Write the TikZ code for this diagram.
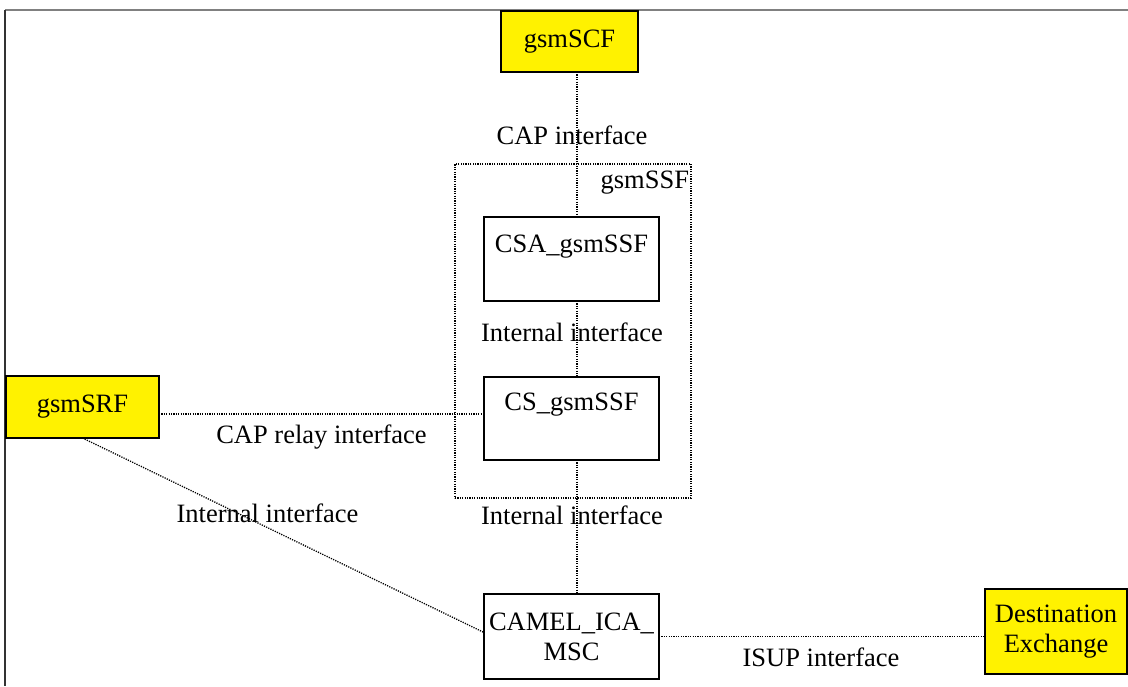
\documentclass[tikz,border=0pt]{standalone}
\usepackage{fontspec}
\setmainfont{Liberation Serif}
\begin{document}
\begin{tikzpicture}[x=0.5pt,y=-0.5pt,
  every node/.style={font=\fontsize{13.25}{15}\selectfont, inner sep=0pt, outer sep=0pt},
  yel/.style={draw=black, line width=0.75pt, fill=yellow, align=center},
  wbox/.style={draw=black, line width=0.75pt, fill=white, align=center},
  dotline/.style={line width=0.65pt, dash pattern=on 0.6pt off 0.6pt},
  lbl/.style={anchor=center}
]
\useasboundingbox (0,0) rectangle (1128,686);
% frame
\draw[gray, line width=0.9pt] (5,10) -- (1128,10);
\draw[black!80, line width=0.6pt] (5,10) -- (5,686);

% container
\node[draw, dotline, minimum width=118pt, minimum height=167pt] (ssf) at (573,331) {};
\node[anchor=east] (ssflbl) at (689,183) {gsmSSF};

% boxes
\node[yel, minimum width=68.5pt, minimum height=30.5pt] (scf) at (569.5,41.5) {gsmSCF};
\node[wbox, minimum width=87.5pt, minimum height=42pt] (csa) at (571.5,259) {};
\node (csat) at (571.5,247) {CSA\_gsmSSF};
\node[wbox, minimum width=87.5pt, minimum height=41.5pt] (cs) at (571.5,418.5) {};
\node (cst) at (571.5,405) {CS\_gsmSSF};
\node[yel, minimum width=76.5pt, minimum height=31pt] (srf) at (82.5,407) {\raisebox{1pt}{gsmSRF}};
\node[wbox, minimum width=87.5pt, minimum height=42.5pt] (camel) at (571.5,636.5) {CAMEL\_ICA\_\\MSC};
\node[yel, minimum width=71pt, minimum height=42.5pt] (dest) at (1056,631.5) {Destination\\Exchange};

% connectors
\coordinate (vx) at (577,0);
\draw[dotline] (vx |- scf.south) -- (vx |- csa.north);
\draw[dotline] (vx |- csa.south) -- (vx |- cs.north);
\draw[dotline] (vx |- cs.south) -- (vx |- camel.north);
\draw[dotline] ([yshift=-3.5pt]srf.east) -- ([yshift=-3.5pt]srf.east -| cs.west);
\draw[dotline] (srf.south) -- ([yshift=2pt]camel.west);
\draw[dotline] (camel.east) -- (camel.east -| dest.west);

% labels
\node[lbl] (l1) at (572,135) {CAP interface};
\node[lbl] (l2) at (572,332) {Internal interface};
\node[lbl] (l3) at (321.5,437) {CAP relay interface};
\node[lbl] (l4) at (267.5,513) {Internal interface};
\node[lbl] (l5) at (572,515) {Internal interface};
\node[lbl] (l6) at (821,657) {ISUP interface};
\end{tikzpicture}
\end{document}
